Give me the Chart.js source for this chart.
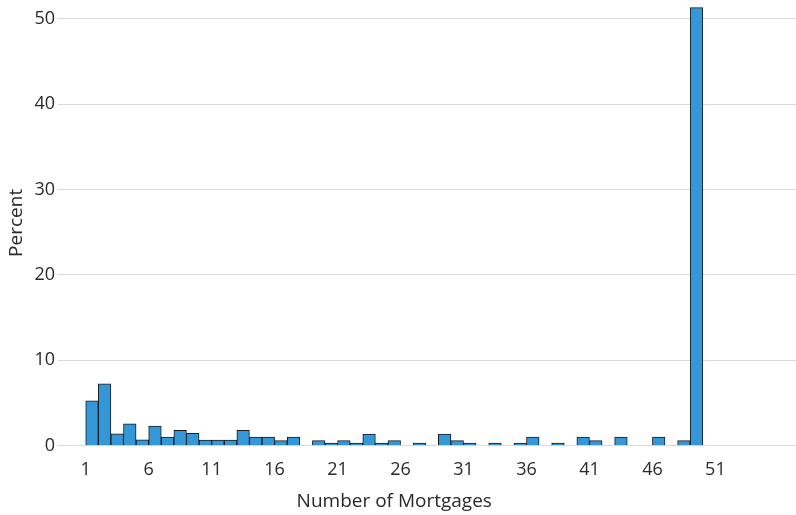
<!DOCTYPE html>
<html>
<head>
<meta charset="utf-8">
<script src="https://cdn.jsdelivr.net/npm/chart.js@4.4.1/dist/chart.umd.min.js"></script>
<style>
  html, body { margin: 0; padding: 0; background: #fff; }
  #wrap { width: 796px; height: 515px; position: relative; }
</style>
</head>
<body>
<div id="wrap"><canvas id="histChart"></canvas></div>
<script>
// bin start value (bin k covers [k, k+1))
const bins = [];
for (let k = 1; k <= 49; k++) bins.push(k);

// percent per bin
const percents = [
  5.25, 7.25, 1.4, 2.55, 0.7, 2.3, 1.0, 1.8, 1.45, 0.65,
  0.65, 0.65, 1.8, 1.0, 1.0, 0.6, 1.0, 0, 0.6, 0.3,
  0.6, 0.3, 1.35, 0.3, 0.6, 0, 0.3, 0, 1.35, 0.6,
  0.3, 0, 0.3, 0, 0.3, 1.0, 0, 0.3, 0, 1.0,
  0.6, 0, 1.0, 0, 0, 1.0, 0, 0.6, 51.3
];

const xTicks = [1, 6, 11, 16, 21, 26, 31, 36, 41, 46, 51];
const yTicks = [0, 10, 20, 30, 40, 50];
const xTitle = 'Number of Mortgages';

const family = '"Open Sans", "Noto Sans", sans-serif';
const tickFont = { family: family, size: 18 };
const titleFont = { family: family, size: 19 };
const textColor = '#2a2a2a';

// x title centred under the data range, not the whole axis
const xTitlePlugin = {
  id: 'xTitle',
  afterDraw(chart) {
    const x = chart.scales.x;
    const mid = (bins[0] + bins[bins.length - 1] + 1) / 2;
    const ctx = chart.ctx;
    ctx.save();
    ctx.font = titleFont.size + 'px ' + family;
    ctx.fillStyle = textColor;
    ctx.textAlign = 'center';
    ctx.textBaseline = 'alphabetic';
    ctx.fillText(xTitle, x.getPixelForValue(mid), x.bottom - 8);
    ctx.restore();
  }
};

new Chart(document.getElementById('histChart'), {
  type: 'bar',
  data: {
    datasets: [{
      label: 'Percent',
      data: bins.map((b, i) => ({ x: b + 0.5, y: percents[i] > 0 ? percents[i] : null })),
      backgroundColor: '#3498d8',
      borderColor: '#1b1b1b',
      borderWidth: 1,
      borderSkipped: 'start',
      barPercentage: 1,
      categoryPercentage: 1
    }]
  },
  options: {
    responsive: true,
    maintainAspectRatio: false,
    animation: false,
    layout: { padding: 0 },
    plugins: { legend: { display: false }, tooltip: { enabled: false } },
    scales: {
      x: {
        type: 'linear',
        offset: false,
        min: -1.2,
        max: 57.4,
        afterBuildTicks: axis => { axis.ticks = xTicks.map(v => ({ value: v })); },
        afterFit: axis => {
          axis.height = 69.3;
          axis.paddingLeft = 0;
          axis.paddingRight = 0;
        },
        grid: { display: false },
        border: { display: false },
        ticks: { color: textColor, font: tickFont, padding: 5, maxRotation: 0 },
        title: { display: false }
      },
      y: {
        min: 0,
        max: 52.2,
        afterBuildTicks: axis => { axis.ticks = yTicks.map(v => ({ value: v })); },
        afterFit: axis => {
          axis.width = 58;
          axis.paddingTop = 0;
          axis.paddingBottom = 0;
        },
        grid: { color: '#dadada', lineWidth: 1, drawTicks: false },
        border: { display: false },
        ticks: { color: textColor, font: tickFont, padding: 3 },
        title: { display: true, text: 'Percent', color: textColor, font: titleFont, padding: { top: 5, bottom: 0 } }
      }
    }
  },
  plugins: [xTitlePlugin]
});
</script>
</body>
</html>
